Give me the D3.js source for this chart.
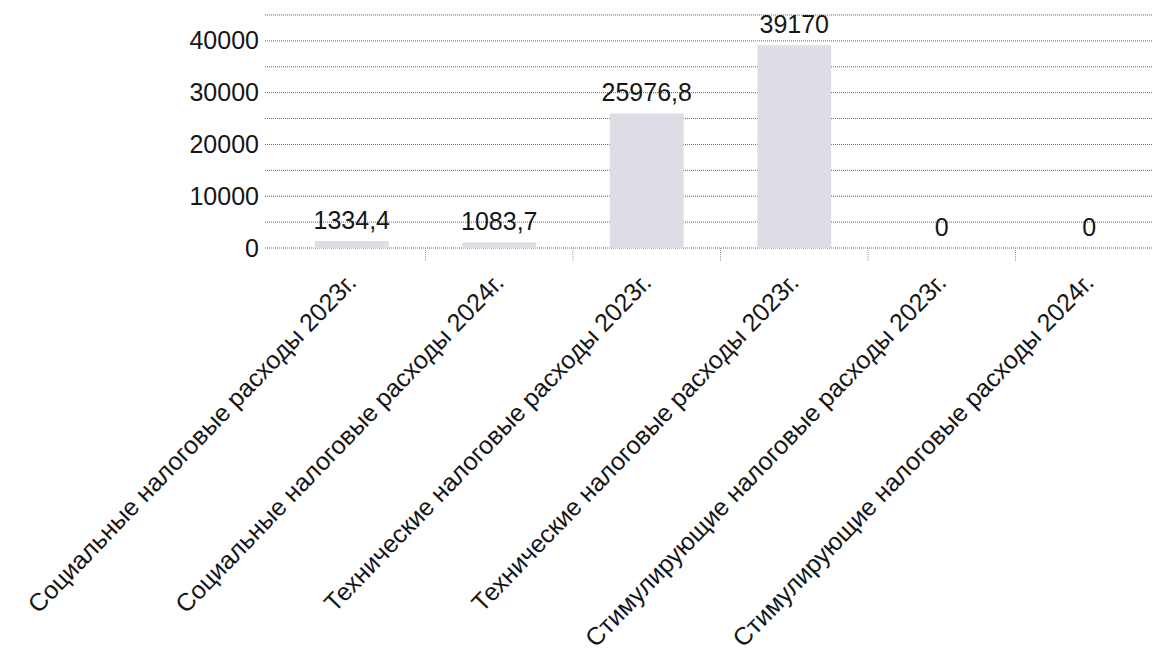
<!DOCTYPE html>
<html>
<head>
<meta charset="utf-8">
<script src="https://cdn.jsdelivr.net/npm/d3@7"></script>
<style>
  body { margin: 0; background: #fff; }
  text { font-family: "Liberation Sans", Arial, sans-serif; fill: #161616; }
</style>
</head>
<body>
<svg id="chart" width="1152" height="661"></svg>
<script>
var categories = [
  "Социальные налоговые расходы 2023г.",
  "Социальные налоговые расходы 2024г.",
  "Технические налоговые расходы 2023г.",
  "Технические налоговые расходы 2023г.",
  "Стимулирующие налоговые расходы 2023г.",
  "Стимулирующие налоговые расходы 2024г."
];
var values = [1334.4, 1083.7, 25976.8, 39170, 0, 0];
var valueLabels = ["1334,4", "1083,7", "25976,8", "39170", "0", "0"];
var yTicks = [0, 10000, 20000, 30000, 40000];
var gridValues = [0, 5000, 10000, 15000, 20000, 25000, 30000, 35000, 40000, 45000];

var svg = d3.select("#chart");

var x = d3.scaleBand()
  .domain(d3.range(categories.length))
  .range([278, 1163])
  .paddingInner(0.5)
  .paddingOuter(0.25);

var y = d3.scaleLinear()
  .domain([0, 45000])
  .range([248, 15]);

// gridlines
svg.append("g").selectAll("line")
  .data(gridValues)
  .enter().append("line")
  .attr("x1", 265).attr("x2", 1152)
  .attr("y1", function(d) { return y(d); })
  .attr("y2", function(d) { return y(d); })
  .attr("stroke", "#666")
  .attr("stroke-width", 1)
  .attr("stroke-dasharray", "1,1");

// small ticks between categories
var step = x.step();
svg.append("g").selectAll("line")
  .data(d3.range(1, categories.length))
  .enter().append("line")
  .attr("x1", function(i) { return x(i) - x.paddingInner() * step / 2; })
  .attr("x2", function(i) { return x(i) - x.paddingInner() * step / 2; })
  .attr("y1", y(0)).attr("y2", y(0) + 14)
  .attr("stroke", "#999")
  .attr("stroke-dasharray", "1,1");

// y axis labels
var yAxis = d3.axisLeft(y).tickValues(yTicks).tickFormat(d3.format("d")).tickSize(0).tickPadding(6);
var ya = svg.append("g").attr("transform", "translate(265,0)").call(yAxis);
ya.select(".domain").remove();
ya.selectAll("text")
  .style("font-size", "25px")
  .attr("fill", "#161616")
  .attr("font-family", "Liberation Sans, Arial, sans-serif");

// bars
svg.append("g").selectAll("rect")
  .data(values)
  .enter().append("rect")
  .attr("x", function(d, i) { return x(i); })
  .attr("width", x.bandwidth())
  .attr("y", function(d) { return y(d); })
  .attr("height", function(d) { return y(0) - y(d); })
  .attr("fill", "#dddde5");

// value labels
svg.append("g").selectAll("text")
  .data(values)
  .enter().append("text")
  .attr("x", function(d, i) { return x(i) + x.bandwidth() / 2; })
  .attr("y", function(d) { return y(d) - 12; })
  .attr("text-anchor", "middle")
  .style("font-size", "25px")
  .text(function(d, i) { return valueLabels[i]; });

// category labels
svg.append("g").selectAll("text")
  .data(categories)
  .enter().append("text")
  .attr("transform", function(d, i) {
    return "translate(" + (x(i) + x.bandwidth() / 2 + 6) + "," + 284 + ") rotate(-46)";
  })
  .attr("text-anchor", "end")
  .style("font-size", "25px")
  .text(function(d) { return d; });
</script>
</body>
</html>
